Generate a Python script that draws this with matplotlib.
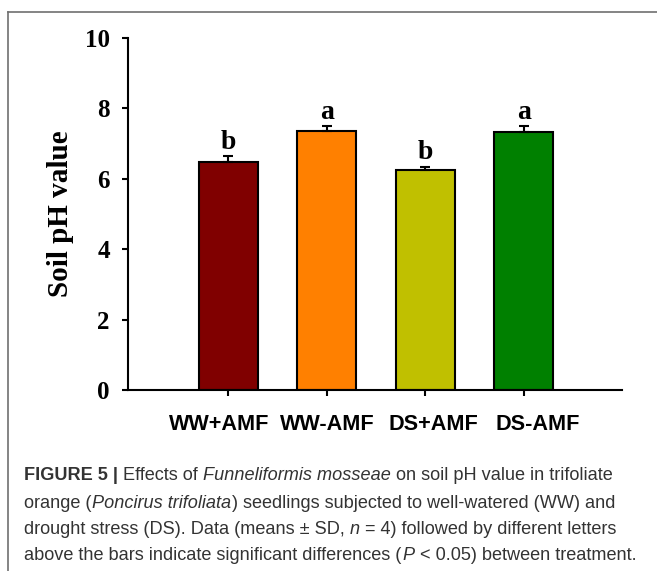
import numpy as np
import matplotlib
matplotlib.use('Agg')
import matplotlib.pyplot as plt
import matplotlib.transforms as mtransforms
from matplotlib.lines import Line2D

# Данные: pH почвы по вариантам опыта
groups = ['WW+AMF', 'WW-AMF', 'DS+AMF', 'DS-AMF']
ph_mean = [6.49, 7.37, 6.26, 7.34]
ph_sd = [0.15, 0.12, 0.08, 0.16]
letters = ['b', 'a', 'b', 'a']
colors = ['#800000', '#FF8000', '#C0C000', '#008000']
yticks = [0, 2, 4, 6, 8, 10]

fig = plt.figure(figsize=(6.57, 5.71), dpi=100)
ax = fig.add_axes([0.1948, 0.317, 0.7519, 0.6165])

x = np.arange(len(groups))
ax.bar(x, ph_mean, width=0.6, color=colors, edgecolor='black', linewidth=1.5, zorder=2)
ax.errorbar(x, ph_mean, yerr=[np.zeros(len(ph_sd)), ph_sd], fmt='none',
            ecolor='black', elinewidth=1.5, capsize=3.3, capthick=1.5, zorder=3)

for xi, m, s, let in zip(x, ph_mean, ph_sd, letters):
    ax.annotate(let, (xi, m + s), xytext=(0, 1), textcoords='offset points',
                ha='center', va='bottom', fontsize=20, fontweight='bold',
                family='Liberation Serif')

ax.set_xlim(-1.02, 4.0)
ax.set_ylim(0, 10)
ax.set_yticks(yticks)
ax.set_yticklabels([str(t) for t in yticks], family='Liberation Serif',
                   fontweight='bold', fontsize=18)
ax.set_xticks(x)
ax.set_xticklabels(groups, family='Liberation Sans', fontweight='bold', fontsize=15.6)
ax.tick_params(axis='y', direction='out', length=4, width=1.5, pad=9)
ax.tick_params(axis='x', direction='out', length=4, width=1.5, pad=13.5)
ax.set_ylabel('Soil pH value', family='Liberation Serif', fontweight='bold',
              fontsize=21, labelpad=8)
for side in ['top', 'right']:
    ax.spines[side].set_visible(False)
for side in ['left', 'bottom']:
    ax.spines[side].set_linewidth(1.5)

# подписи по оси X в оригинале немного сдвинуты
shifts = [-9.5, 0.5, 8, 14.5]
for lab, dx in zip(ax.get_xticklabels(), shifts):
    lab.set_transform(lab.get_transform() +
                      mtransforms.ScaledTranslation(dx / 100, 0, fig.dpi_scale_trans))

# рамка рисунка (верх и лево)
W, H = 657, 571
fig.add_artist(Line2D([8 / W, 1], [1 - 12 / H, 1 - 12 / H], transform=fig.transFigure,
                      color='#6f6f6f', linewidth=1.2))
fig.add_artist(Line2D([8 / W, 8 / W], [0, 1 - 12 / H], transform=fig.transFigure,
                      color='#6f6f6f', linewidth=1.2))

# подпись к рисунку
caption = [
    [('FIGURE 5 |', 'bold', 'normal'), ('Effects of', 'normal', 'normal'),
     ('Funneliformis mosseae', 'normal', 'italic'),
     ('on soil pH value in trifoliate', 'normal', 'normal')],
    [('orange (', 'normal', 'normal'), ('Poncirus trifoliata', 'normal', 'italic'),
     (') seedlings subjected to well-watered (WW) and', 'normal', 'normal')],
    [('drought stress (DS). Data (means \u00b1 SD,', 'normal', 'normal'),
     ('n', 'normal', 'italic'),
     ('= 4) followed by different letters', 'normal', 'normal')],
    [('above the bars indicate significant differences (', 'normal', 'normal'),
     ('P', 'normal', 'italic'),
     ('< 0.05) between treatment.', 'normal', 'normal')],
]
glue = [[1, 1, 1], [0, 0], [1, 1], [0, 1]]

cap_font = 'Liberation Sans'
cap_size = 13.1
cap_color = '#333333'
renderer = fig.canvas.get_renderer()


def text_width(s, **kw):
    t = fig.text(0, 0, s, fontsize=cap_size, family=cap_font, **kw)
    w = t.get_window_extent(renderer).width
    t.remove()
    return w


space_w = text_width('x x') - text_width('xx')
line_y = [476, 503, 530, 556]
for row, gl, yy in zip(caption, glue, line_y):
    px = 24.0
    for i, (s, wt, st) in enumerate(row):
        t = fig.text(px / W, 1 - yy / H, s, fontsize=cap_size, family=cap_font,
                     fontweight=wt, fontstyle=st, color=cap_color, va='center', ha='left')
        px += t.get_window_extent(renderer).width
        if i < len(gl) and gl[i]:
            px += space_w
        if s.endswith('(') or s.startswith(')'):
            px += 1

fig.savefig('out.png', dpi=100)
